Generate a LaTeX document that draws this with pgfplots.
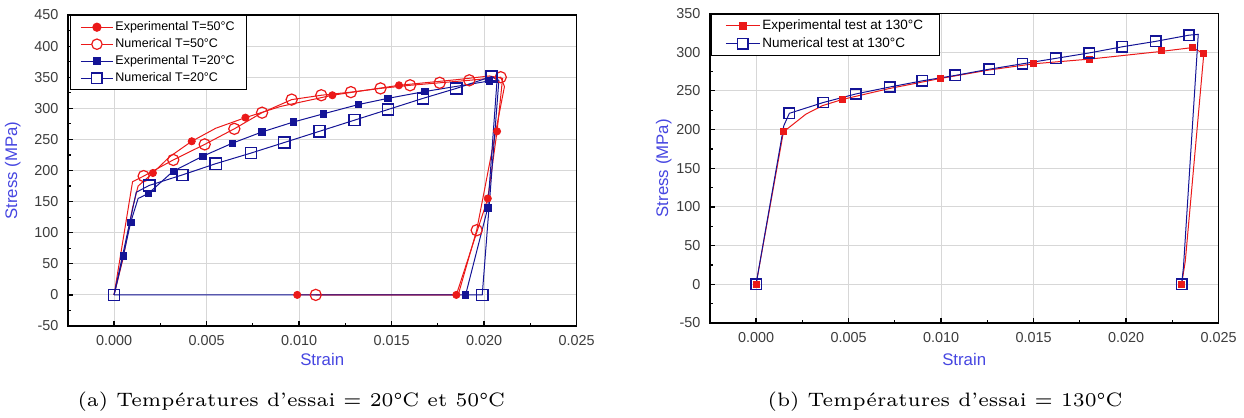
\documentclass[border=0pt]{standalone}
\usepackage{fontspec}
\newfontfamily\arial{Liberation Sans}
\usepackage{pgfplots}
\pgfplotsset{compat=1.18}
\definecolor{myred}{RGB}{235,25,25}
\definecolor{mynavy}{RGB}{20,20,150}
\definecolor{labelblue}{RGB}{70,70,225}
\definecolor{tickgray}{RGB}{60,60,60}
\definecolor{gridgray}{RGB}{215,215,215}
\pgfplotsset{mystyle/.style={
  scale only axis, axis line style={black, line width=0.75pt},
  grid=major, major grid style={gridgray, line width=0.5pt},
  tick pos=left, tick align=inside, major tick length=2.5pt, minor tick length=1.5pt,
  every tick/.style={black, line width=0.6pt},
  minor x tick num=1, minor y tick num=1,
  tick label style={font=\arial\fontsize{7.2}{8}\selectfont, text=tickgray},
  yticklabel style={xshift=-1.2pt},
  xticklabel style={yshift=-1.2pt},
  label style={font=\arial\fontsize{8.4}{10}\selectfont, text=labelblue},
  xmin=-0.0025, xmax=0.025,
  xtick={0,0.005,0.01,0.015,0.02,0.025},
  xticklabels={0.000,0.005,0.010,0.015,0.020,0.025},
  scaled x ticks=false, scaled y ticks=false,
  xlabel=Strain, ylabel={Stress (MPa)},
  legend cell align=left,
}}
\begin{document}
\begin{tikzpicture}
\useasboundingbox (0,0) rectangle (622pt,209pt);
% ---------------- (a) ----------------
\begin{axis}[mystyle, at={(33.9pt,46pt)}, anchor=south west,
  width=254.4pt, height=155.5pt,
  ymin=-50, ymax=450, ytick={-50,0,50,100,150,200,250,300,350,400,450},
  yticklabels={-50,0,50,100,150,200,250,300,350,400,450},
  ylabel style={at={(axis description cs:-0.108,0.5)}, anchor=center},
  xlabel style={at={(axis description cs:0.5,-0.109)}, anchor=center},
  legend style={at={(axis description cs:0.004,1)}, anchor=north west, draw=black, line width=0.6pt,
    fill=white, font=\arial\fontsize{6.25}{7}\selectfont, inner xsep=5pt, inner ysep=1.8pt,
    nodes={inner sep=1pt, text height=4.6pt, text depth=1.4pt}, row sep=0.5pt},
]
% lines
\addplot[myred, line width=0.5pt, forget plot] coordinates {
(0,0)(0.0005,60)(0.0010,140)(0.0013,175)(0.0021,196)(0.0030,222)(0.0042,247)(0.0055,268)(0.0071,285)(0.0090,303)(0.0118,321)(0.0154,337)(0.0185,346)(0.0203,352)(0.0210,348)(0.0207,263)(0.0202,155)(0.0185,0)(0.0099,0)};
\addplot[myred, line width=0.5pt, forget plot] coordinates {
(0,0)(0.0010,182)(0.0016,191)(0.0032,217)(0.0049,242)(0.0065,267)(0.0080,293)(0.0096,314)(0.0112,321)(0.0128,326)(0.0144,332)(0.0160,337)(0.0176,341)(0.0192,345)(0.0209,350)(0.0211,335)(0.0196,104)(0.0186,0)(0.0109,0)};
\addplot[mynavy, line width=0.5pt, forget plot] coordinates {
(0,0)(0.0005,63)(0.0009,117)(0.0013,155)(0.00185,163)(0.0032,199)(0.0048,223)(0.0064,244)(0.0080,262)(0.0097,278)(0.0113,291)(0.0132,306)(0.0148,316)(0.0168,327)(0.0203,344)(0.0207,345)(0.0202,140)(0.0190,0)};
\addplot[mynavy, line width=0.5pt, forget plot] coordinates {
(0,0)(0.0012,165)(0.0019,176)(0.0037,193)(0.0055,211)(0.0074,228)(0.0092,245)(0.0111,263)(0.0130,281)(0.0148,298)(0.0167,316)(0.0185,332)(0.0204,351)(0.0208,345)(0.0199,0)(0,0)};
% marks
\addplot[only marks, mark=*, mark size=1.8pt, myred,
  legend image code/.code={\draw[myred, line width=0.5pt] (0pt,0pt)--(16pt,0pt); \fill[myred] (8pt,0pt) circle (2pt);}]
coordinates {(0.0021,196)(0.0042,247)(0.0071,285)(0.0118,321)(0.0154,337)(0.0207,263)(0.0202,155)(0.0185,0)(0.0099,0)};
\addlegendentry{Experimental T=50°C}
\addplot[only marks, mark=o, mark size=2.8pt, myred, mark options={line width=0.6pt, fill=white},
  legend image code/.code={\draw[myred, line width=0.5pt] (0pt,0pt)--(16pt,0pt); \draw[myred, line width=0.6pt, fill=white] (8pt,0pt) circle (2.6pt);}]
coordinates {(0.0016,191)(0.0032,217)(0.0049,242)(0.0065,267)(0.0080,293)(0.0096,314)(0.0112,321)(0.0128,326)(0.0144,332)(0.0160,337)(0.0176,341)(0.0192,345)(0.0209,350)(0.0196,104)(0.0109,0)};
\addlegendentry{Numerical T=50°C}
\addplot[only marks, mark=square*, mark size=1.6pt, mynavy,
  legend image code/.code={\draw[mynavy, line width=0.5pt] (0pt,0pt)--(16pt,0pt); \fill[mynavy] (6.3pt,-1.7pt) rectangle (9.7pt,1.7pt);}]
coordinates {(0.0005,63)(0.0009,117)(0.00185,163)(0.0032,199)(0.0048,223)(0.0064,244)(0.0080,262)(0.0097,278)(0.0113,291)(0.0132,306)(0.0148,316)(0.0168,327)(0.0203,344)(0.0202,140)(0.0190,0)};
\addlegendentry{Experimental T=20°C}
\addplot[only marks, mark=square, mark size=2.8pt, mynavy, mark options={line width=0.75pt, fill=white},
  legend image code/.code={\draw[mynavy, line width=0.5pt] (0pt,0pt)--(16pt,0pt); \draw[mynavy, line width=0.75pt, fill=white] (5.4pt,-2.6pt) rectangle (10.6pt,2.6pt);}]
coordinates {(0,0)(0.0019,176)(0.0037,193)(0.0055,211)(0.0074,228)(0.0092,245)(0.0111,263)(0.0130,281)(0.0148,298)(0.0167,316)(0.0185,332)(0.0204,351)(0.0199,0)};
\addlegendentry{Numerical T=20°C}
\end{axis}
% ---------------- (b) ----------------
\begin{axis}[mystyle, at={(354.9pt,47.5pt)}, anchor=south west,
  width=254.4pt, height=154.75pt,
  ymin=-50, ymax=350, ytick={-50,0,50,100,150,200,250,300,350},
  yticklabels={-50,0,50,100,150,200,250,300,350},
  ylabel style={at={(axis description cs:-0.0907,0.5)}, anchor=center},
  xlabel style={at={(axis description cs:0.5,-0.118)}, anchor=center},
  legend style={at={(axis description cs:0.002,1)}, anchor=north west, draw=black, line width=0.6pt,
    fill=white, font=\arial\fontsize{6.75}{8}\selectfont, inner xsep=7pt, inner ysep=1.6pt,
    nodes={inner sep=1pt, text height=5pt, text depth=1.5pt}, row sep=0.5pt},
]
\addplot[myred, line width=0.5pt, forget plot] coordinates {
(0,0)(0.00148,197)(0.0027,220)(0.0036,231)(0.00468,239)(0.0072,253)(0.00995,266)(0.0126,277)(0.0150,285)(0.0180,291)(0.0219,301)(0.0236,306)(0.0242,298)(0.0232,30)(0.0230,0)};
\addplot[mynavy, line width=0.5pt, forget plot] coordinates {
(0,0)(0.0015,205)(0.0018,221)(0.00364,235)(0.00539,246)(0.00723,255)(0.00899,263)(0.01077,270)(0.0126,278)(0.0144,285)(0.0162,292)(0.0180,299)(0.0198,307)(0.0216,314)(0.0234,322)(0.0239,323)(0.0231,22)(0.0230,0)};
\addplot[only marks, mark=square*, mark size=1.5pt, myred,
  legend image code/.code={\draw[myred, line width=0.5pt] (0pt,0pt)--(17pt,0pt); \fill[myred] (6.8pt,-1.7pt) rectangle (10.2pt,1.7pt);}]
coordinates {(0,0)(0.00148,197)(0.00468,239)(0.00995,266)(0.0150,285)(0.0180,291)(0.0219,302)(0.0236,306)(0.0242,298)(0.0230,0)};
\addlegendentry{Experimental test at 130°C}
\addplot[only marks, mark=square, mark size=2.6pt, mynavy, mark options={line width=0.75pt},
  legend image code/.code={\draw[mynavy, line width=0.5pt] (0pt,0pt)--(17pt,0pt); \draw[mynavy, line width=0.75pt, fill=white] (5.9pt,-2.6pt) rectangle (11.1pt,2.6pt);}]
coordinates {(0,0)(0.0018,221)(0.00364,235)(0.00539,246)(0.00723,255)(0.00899,263)(0.01077,270)(0.0126,278)(0.0144,285)(0.0162,292)(0.0180,299)(0.0198,307)(0.0216,314)(0.0234,322)(0.0230,0)};
\addlegendentry{Numerical test at 130°C}
\end{axis}
% captions
\node[anchor=base west, scale=1.62, inner sep=0pt] at (38.5pt,5.5pt) {\fontsize{6}{7}\selectfont (a)\ Températures d'essai = 20°C et 50°C};
\node[anchor=base west, scale=1.62, inner sep=0pt] at (383.5pt,5.5pt) {\fontsize{6}{7}\selectfont (b)\ Températures d'essai = 130°C};
\end{tikzpicture}
\end{document}
